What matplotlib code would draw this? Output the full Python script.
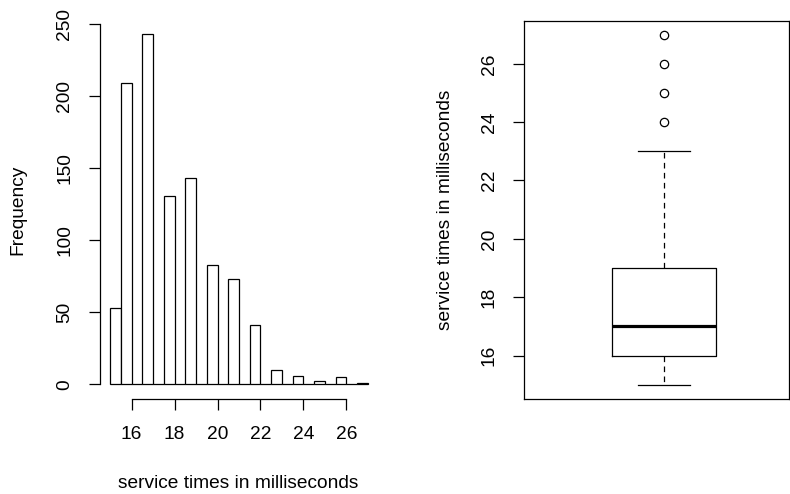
import numpy as np
import matplotlib
matplotlib.use("Agg")
from matplotlib import pyplot as plt

# service times (ms) and how often each one occurs
times = np.array([15, 16, 17, 18, 19, 20, 21, 22, 23, 24, 25, 26, 27])
counts = np.array([53, 209, 243, 131, 143, 83, 73, 41, 10, 6, 2, 5, 1])

hist_ticks = [16, 18, 20, 22, 24, 26]
freq_ticks = [0, 50, 100, 150, 200, 250]
box_ticks = [16, 18, 20, 22, 24, 26]
xlab = "service times in milliseconds"

plt.rcParams['font.family'] = ['Liberation Sans', 'DejaVu Sans']
FS = 13.8
LW = 0.9

fig = plt.figure(figsize=(7.9, 4.94), dpi=100)
W, H = 790.0, 494.0


def px_axes(x0, y0, x1, y1):
    return fig.add_axes([x0 / W, 1 - y1 / H, (x1 - x0) / W, (y1 - y0) / H])


# histogram, R style bins (a, b] with break width 0.5
breaks = np.arange(15, 27.01, 0.5)
idx = np.digitize(times, breaks, right=True)
idx[idx == 0] = 1
binned = np.zeros(len(breaks) - 1)
for i, c in zip(idx, counts):
    binned[i - 1] += c

ax1 = px_axes(99.7, 9.9, 378.3, 398.6)
ax1.bar(breaks[:-1], binned, width=0.5, align='edge',
        facecolor='white', edgecolor='black', linewidth=LW)
ax1.set_xlim(14.52, 27.48)
ax1.set_ylim(-10, 260)
for s in ['top', 'right']:
    ax1.spines[s].set_visible(False)
ax1.spines['left'].set_bounds(0, 250)
ax1.spines['bottom'].set_bounds(16, 26)
for s in ['left', 'bottom']:
    ax1.spines[s].set_linewidth(LW)
ax1.set_xticks(hist_ticks)
ax1.set_yticks(freq_ticks)
ax1.tick_params(axis='both', length=8, width=LW, labelsize=FS, color='black')
ax1.tick_params(axis='x', pad=12)
ax1.tick_params(axis='y', pad=11, labelrotation=90)
for t in ax1.get_yticklabels():
    t.set_va('center')

# boxplot of the same sample
sample = np.repeat(times, counts)
ax2 = px_axes(524, 20.6, 789, 398.7)
bp = ax2.boxplot(sample, positions=[1], widths=0.4, capwidths=0.2,
                 boxprops=dict(color='black', linewidth=LW),
                 whiskerprops=dict(color='black', linewidth=LW,
                                   linestyle=(0, (4.5, 3.5))),
                 capprops=dict(color='black', linewidth=LW),
                 medianprops=dict(color='black', linewidth=2.3),
                 flierprops=dict(marker='o', markerfacecolor='none',
                                 markeredgecolor='black', markersize=6,
                                 markeredgewidth=LW))
# draw each outlier value once
for fl in bp['fliers']:
    ys = np.unique(fl.get_ydata())
    fl.set_data(np.ones_like(ys), ys)
ax2.set_xlim(0.46, 0.46 + 265 / 259.0)
ax2.set_ylim(14.52, 27.48)
for s in ax2.spines.values():
    s.set_linewidth(LW)
ax2.set_xticks([])
ax2.set_yticks(box_ticks)
ax2.tick_params(axis='y', length=8, width=LW, labelsize=FS, pad=11,
                labelrotation=90)
for t in ax2.get_yticklabels():
    t.set_va('center')

fig.text(238.5 / W, 1 - 483 / H, xlab, fontsize=FS, ha='center', va='center')
fig.text(18 / W, 1 - 210 / H, "Frequency", fontsize=FS, ha='center',
         va='center', rotation=90)
fig.text(445 / W, 1 - 210 / H, xlab, fontsize=FS, ha='center',
         va='center', rotation=90)

fig.savefig("out.png", dpi=100, facecolor='white')
